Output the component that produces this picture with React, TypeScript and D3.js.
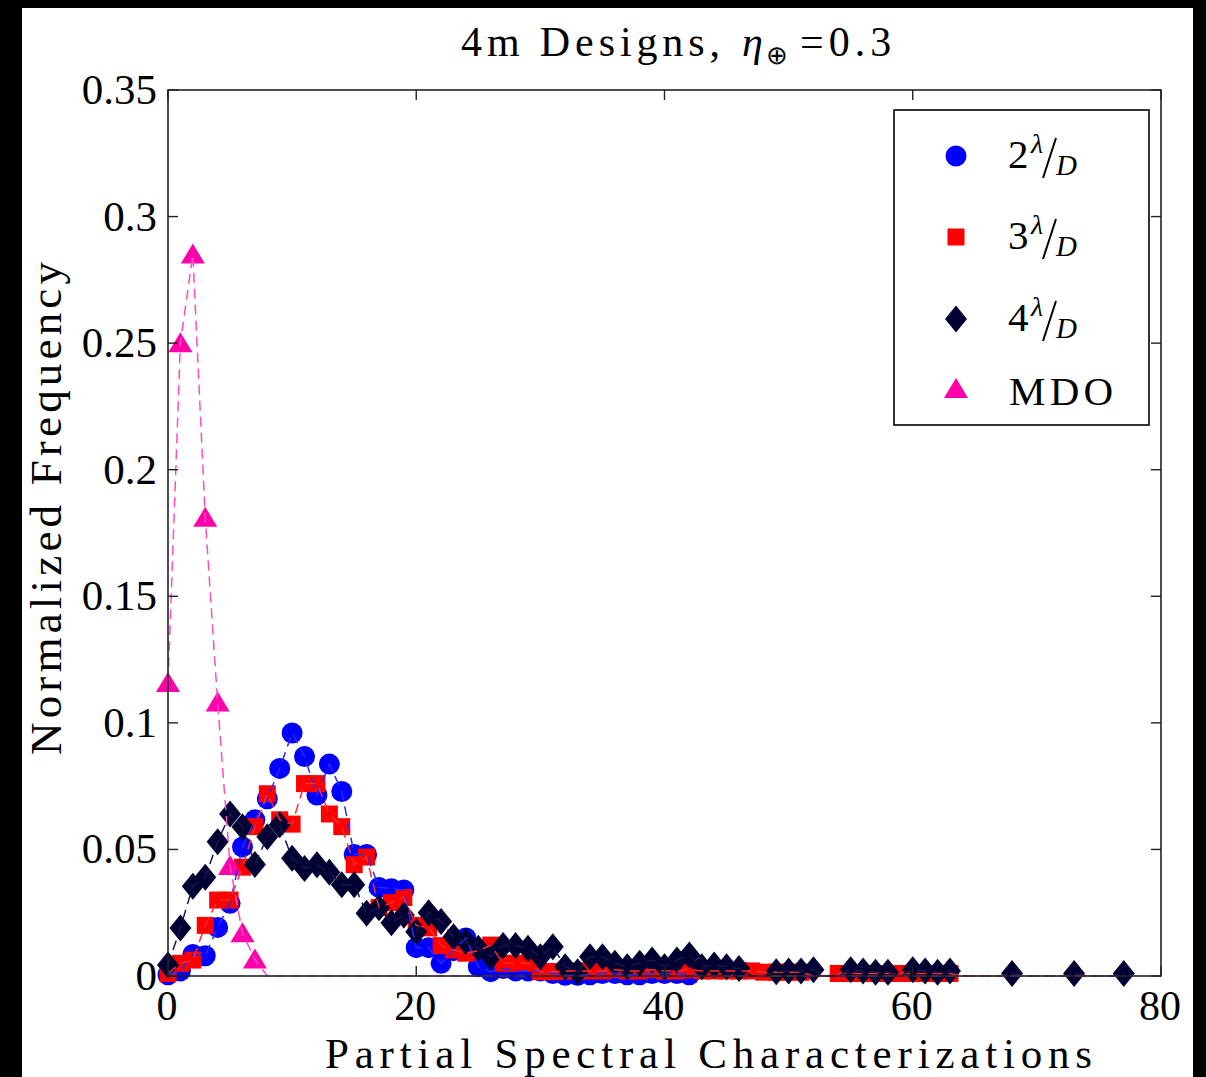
import React from "react";
import * as d3 from "d3";

const W = 1206;
const H = 1077;

const blue2 = [0.0005,0.002,0.0085,0.008,0.0192,0.0287,0.051,0.0617,0.070,0.082,
 0.096,0.0867,0.0715,0.0837,0.0729,0.048,0.048,0.035,0.0345,0.034,
 0.0112,0.0112,0.005,0.010,0.015,0.0037,0.0017,0.003,0.002,0.002,
 0.002,0.001,0.0003,0.0003,0.0005,0.001,0.001,0.0005,0.0005,0.001,
 0.001,0.001,0.0005,0,0,0,0,0,0,0,
 0,0,0,0,0,0,0,0,0,0,
 0,0,0,0,0,0,0,0,0,0,
 0,0,0,0,0,0,0,0];

const red3 = [0.001,0.005,0.0063,0.020,0.030,0.030,0.043,0.059,0.072,0.0617,
 0.060,0.076,0.076,0.064,0.059,0.044,0.047,0.027,0.029,0.031,
 0.020,0.019,0.012,0.0103,0.009,0.010,0.0122,0.005,0.005,0.005,
 0.0017,0.0017,0.002,0.002,0.002,0.002,0.0025,0.002,0.002,0.0025,
 0.002,0.002,0.0025,0.002,0.002,0.002,0.002,0.002,0.0015,0.0015,
 0.0015,0.0015,0,0,0.001,0.001,0.001,0.001,0.001,0.001,
 0.001,0.001,0.001,0.001,0,0,0,0,0,0,
 0,0,0,0,0,0,0,0];

const navy4 = [0.0043,0.019,0.0355,0.039,0.053,0.064,0.059,0.044,0.055,0.0597,
 0.0465,0.0425,0.0439,0.041,0.036,0.036,0.0248,0.027,0.021,0.024,
 0.0175,0.025,0.0215,0.0155,0.0136,0.011,0.0076,0.012,0.012,0.011,
 0.0076,0.0116,0.0037,0.0017,0.0076,0.0076,0.005,0.0037,0.005,0.0063,
 0.0037,0.0063,0.0083,0.0037,0.0043,0.0037,0.003,0,0,0.0017,
 0.002,0.002,0.0025,0,0,0.0025,0.002,0.0015,0.0015,0,
 0.0025,0.002,0.0015,0.002,0,0,0,0,0.001,0,
 0,0,0,0.001,0,0,0,0.001];

const mdo = [0.1157,0.25,0.285,0.181,0.108,0.0435,0.0169,0.0065,0,0,
 0,0,0,0,0,0,0,0,0,0,
 0,0,0,0,0,0,0,0,0,0,
 0,0,0,0,0,0,0,0,0,0,
 0,0,0,0,0,0,0,0,0,0,
 0,0,0,0,0,0,0,0,0,0,
 0,0,0,0,0,0,0,0,0,0,
 0,0,0,0,0,0,0,0];

const xTicks = [0, 20, 40, 60, 80];
const yTicks = [0, 0.05, 0.1, 0.15, 0.2, 0.25, 0.3, 0.35];
const yTickLabels = ["0", "0.05", "0.1", "0.15", "0.2", "0.25", "0.3", "0.35"];

const series = [
  { key: "2", values: blue2, color: "#0000ff", line: "#2a2aff", shape: "circle" },
  { key: "3", values: red3, color: "#ff0000", line: "#ff2a2a", shape: "square" },
  { key: "4", values: navy4, color: "#000033", line: "#1a1a4a", shape: "diamond" },
  { key: "MDO", values: mdo, color: "#ff00aa", line: "#ff4cc4", shape: "triangle" },
];

const L = 168, R = 1161, T = 90, B = 976;
const x = d3.scaleLinear().domain([0, 80]).range([L, R]);
const y = d3.scaleLinear().domain([0, 0.35]).range([B, T]);

const FONT = "'Liberation Serif', 'Times New Roman', serif";

function Marker({ shape, cx, cy, color }: { shape: string; cx: number; cy: number; color: string }) {
  if (shape === "circle") return <circle cx={cx} cy={cy} r={10.5} fill={color} />;
  if (shape === "square") return <rect x={cx - 8.5} y={cy - 8.5} width={17} height={17} fill={color} />;
  if (shape === "diamond") {
    const w = 11, h = 13.5;
    return <path d={`M${cx},${cy - h}L${cx + w},${cy}L${cx},${cy + h}L${cx - w},${cy}Z`} fill={color} />;
  }
  const w = 12, h = 20;
  return <path d={`M${cx},${cy - h * 0.55}L${cx + w},${cy + h * 0.45}L${cx - w},${cy + h * 0.45}Z`} fill={color} />;
}

export default function App() {
  const line = d3.line<number>().x((_, i) => x(i)).y((v) => y(v));
  const legendRows = [
    { s: series[0], my: 156, ty: 168 },
    { s: series[1], my: 237, ty: 249 },
    { s: series[2], my: 319, ty: 331 },
    { s: series[3], my: 389, ty: 405 },
  ];
  return (
    <svg width={W} height={H} style={{ position: "absolute", left: 0, top: 0, display: "block" }} fontFamily={FONT}>
      <rect x={0} y={0} width={W} height={H} fill="#000" />
      <rect x={22} y={8} width={1171} height={H - 8} fill="#fff" />

      {/* title */}
      <text x={461} y={56} fontSize={42} textLength={259} lengthAdjust="spacing">4m Designs,</text>
      <text x={742} y={56} fontSize={42} fontStyle="italic">η</text>
      <text x={766} y={64} fontSize={26}>⊕</text>
      <text x={800} y={56} fontSize={42} letterSpacing={5}>=0.3</text>

      {/* markers */}
      {series.map((s) => (
        <g key={s.key}>
          {s.values.map((v, i) =>
            v > 0 ? <Marker key={i} shape={s.shape} cx={x(i)} cy={y(v)} color={s.color} /> : null
          )}
        </g>
      ))}
      {/* dashed lines */}
      {series.map((s) => (
        <path key={s.key} d={line(s.values) || ""} fill="none" stroke={s.line} strokeWidth={1.5} strokeDasharray="10,6" />
      ))}

      {/* axes box */}
      <rect x={L} y={T} width={R - L} height={B - T} fill="none" stroke="#222" strokeWidth={1.6} />
      {xTicks.map((t) => (
        <g key={"x" + t}>
          <line x1={x(t)} x2={x(t)} y1={B} y2={B - 10} stroke="#222" strokeWidth={1.4} />
          <line x1={x(t)} x2={x(t)} y1={T} y2={T + 10} stroke="#222" strokeWidth={1.4} />
          <text x={x(t) - 1} y={1020} fontSize={42} textAnchor="middle">{t}</text>
        </g>
      ))}
      {yTicks.map((t, i) => (
        <g key={"y" + t}>
          <line x1={L} x2={L + 10} y1={y(t)} y2={y(t)} stroke="#222" strokeWidth={1.4} />
          <line x1={R} x2={R - 10} y1={y(t)} y2={y(t)} stroke="#222" strokeWidth={1.4} />
          <text x={157} y={y(t) + 14} fontSize={43} textAnchor="end">{yTickLabels[i]}</text>
        </g>
      ))}

      {/* axis labels */}
      <text x={325} y={1068} fontSize={43} textLength={767} lengthAdjust="spacing">Partial Spectral Characterizations</text>
      <text transform="translate(61,755) rotate(-90)" fontSize={45} textLength={493} lengthAdjust="spacing">Normalized Frequency</text>

      {/* legend */}
      <rect x={894} y={110} width={255} height={315} fill="#fff" stroke="#000" strokeWidth={1.6} />
      {legendRows.map(({ s, my, ty }) => (
        <g key={"lg" + s.key}>
          <Marker shape={s.shape} cx={956} cy={my} color={s.color} />
          {s.key === "MDO" ? (
            <text x={1009} y={ty} fontSize={41} textLength={104} lengthAdjust="spacing">MDO</text>
          ) : (
            <g>
              <text x={1008} y={ty} fontSize={41}>{s.key}</text>
              <text x={1031} y={ty - 15} fontSize={28} fontStyle="italic">λ</text>
              <line x1={1056} y1={ty - 30} x2={1043} y2={ty + 10} stroke="#000" strokeWidth={2} />
              <text x={1056} y={ty + 7} fontSize={29} fontStyle="italic">D</text>
            </g>
          )}
        </g>
      ))}
    </svg>
  );
}
